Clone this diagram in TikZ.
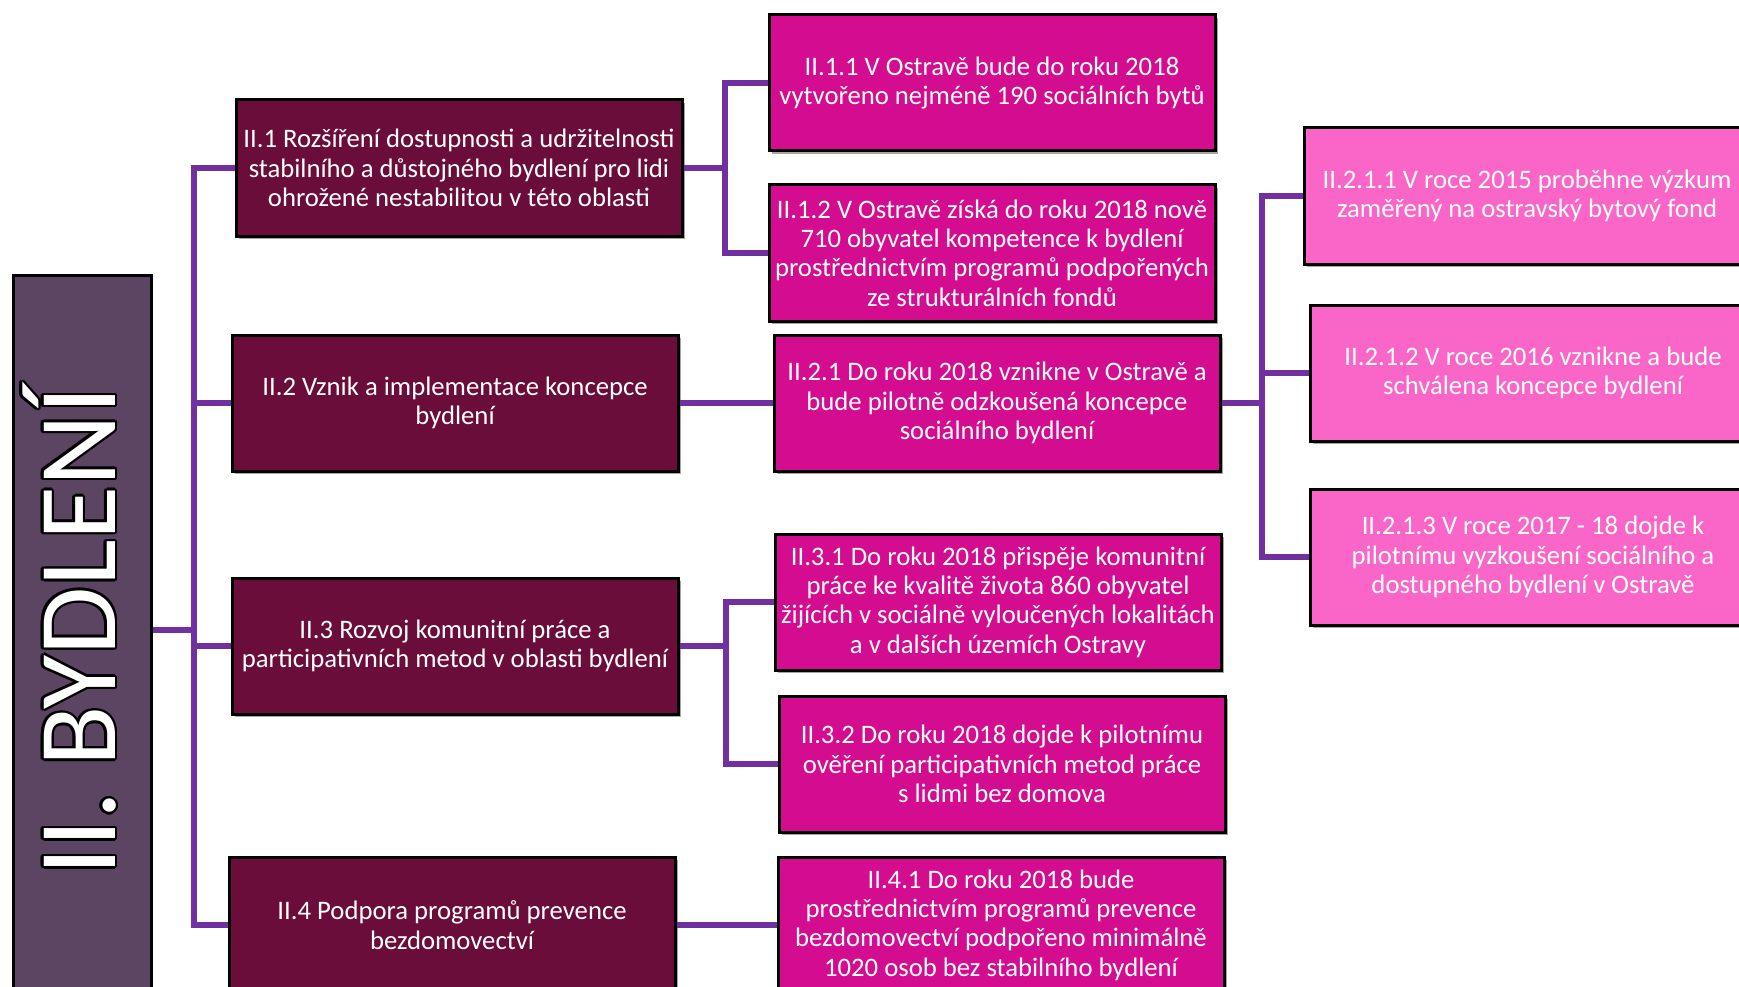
\documentclass[tikz,border=0pt]{standalone}
\usepackage{fontspec}
\setmainfont{Carlito}
\usetikzlibrary{shadows,calc}
\definecolor{rootc}{HTML}{5C4563}
\definecolor{lonec}{HTML}{6A0D3A}
\definecolor{ltwoc}{HTML}{D40C8F}
\definecolor{lthreec}{HTML}{F966C7}
\definecolor{connc}{HTML}{7030A0}
\begin{document}
\begin{tikzpicture}[x=1pt,y=-1pt,
  box/.style={draw=black, line width=3pt, minimum width=446pt, minimum height=136pt,
    align=center, text=white, font=\fontsize{26.7}{29.3}\selectfont, inner sep=0pt,
    drop shadow={shadow xshift=3pt, shadow yshift=-3pt, opacity=0.35, fill=black}},
  lone/.style={box, fill=lonec},
  ltwo/.style={box, fill=ltwoc},
  lthree/.style={box, fill=lthreec},
  rootbox/.style={draw=black, line width=3pt, fill=rootc, minimum width=138pt, minimum height=726pt, inner sep=0pt},
  rootlbl/.style={rotate=90, anchor=base, inner sep=0pt, font=\fontsize{111}{120}\selectfont},
  conn/.style={draw=connc, line width=6pt}]
\useasboundingbox (0,0) rectangle (1739,987);
\fill[white] (0,0) rectangle (1739,987);

% root
\node[rootbox] (root) at (82,638) {};
\coordinate (rt) at (115,631);
\foreach \a in {0,30,...,330}
  \node[rootlbl, text=black] (o\a) at ($(rt)+(\a:2.4)$) {II. BYDLENÍ};
\node[rootlbl, text=white] (rootlabel) at (rt) {II. BYDLENÍ};

% level 1
\node[lone] (n1) at (459,168) {II.1 Rozšíření dostupnosti a udržitelnosti\\stabilního a důstojného bydlení pro lidi\\ohrožené nestabilitou v této oblasti};
\node[lone] (n2) at (455,403) {II.2 Vznik a implementace koncepce\\bydlení};
\node[lone] (n3) at (455,646) {II.3 Rozvoj komunitní práce a\\participativních metod v oblasti bydlení};
\node[lone] (n4) at (452,925) {II.4 Podpora programů prevence\\bezdomovectví};

% level 2
\node[ltwo] (n11) at (992,83) {II.1.1 V Ostravě bude do roku 2018\\vytvořeno nejméně 190 sociálních bytů};
\node[ltwo] (n12) at (992,253) {II.1.2 V Ostravě získá do roku 2018 nově\\710 obyvatel kompetence k bydlení\\prostřednictvím programů podpořených\\ze strukturálních fondů};
\node[ltwo] (n21) at (997,403) {II.2.1 Do roku 2018 vznikne v Ostravě a\\bude pilotně odzkoušená koncepce\\sociálního bydlení};
\node[ltwo] (n31) at (998,602) {II.3.1 Do roku 2018 přispěje komunitní\\práce ke kvalitě života 860 obyvatel\\žijících v sociálně vyloučených lokalitách\\a v dalších územích Ostravy};
\node[ltwo] (n32) at (1002,764) {II.3.2 Do roku 2018 dojde k pilotnímu\\ověření participativních metod práce\\s lidmi bez domova};
\node[ltwo] (n41) at (1001,925) {II.4.1 Do roku 2018 bude\\prostřednictvím programů prevence\\bezdomovectví podpořeno minimálně\\1020 osob bez stabilního bydlení};

% level 3
\node[lthree] (n211) at (1527,196) {II.2.1.1 V roce 2015 proběhne výzkum\\zaměřený na ostravský bytový fond};
\node[lthree] (n212) at (1533,373) {II.2.1.2 V roce 2016 vznikne a bude\\schválena koncepce bydlení};
\node[lthree] (n213) at (1533,557) {II.2.1.3 V roce 2017 - 18 dojde k\\pilotnímu vyzkoušení sociálního a\\dostupného bydlení v Ostravě};

% connectors
\coordinate (t) at (194,630);
\draw[conn] (root.east |- t) -- (t);
\draw[conn] (n1.west) -| (t) |- (n4.west);
\draw[conn] (t |- n2.west) -- (n2.west);
\draw[conn] (t |- n3.west) -- (n3.west);

\coordinate (b1) at (725,168);
\draw[conn] (n1.east) -- (b1);
\draw[conn] (n11.west) -| (b1) |- (n12.west);

\draw[conn] (n2.east) -- (n21.west);

\coordinate (b21) at (1262,403);
\draw[conn] (n21.east) -- (b21);
\draw[conn] (n211.west) -| (b21) |- (n213.west);
\draw[conn] (b21 |- n212.west) -- (n212.west);

\coordinate (b3) at (726,646);
\draw[conn] (n3.east) -- (b3);
\draw[conn] (n31.west) -| (b3) |- (n32.west);

\draw[conn] (n4.east) -- (n41.west);
\end{tikzpicture}
\end{document}
